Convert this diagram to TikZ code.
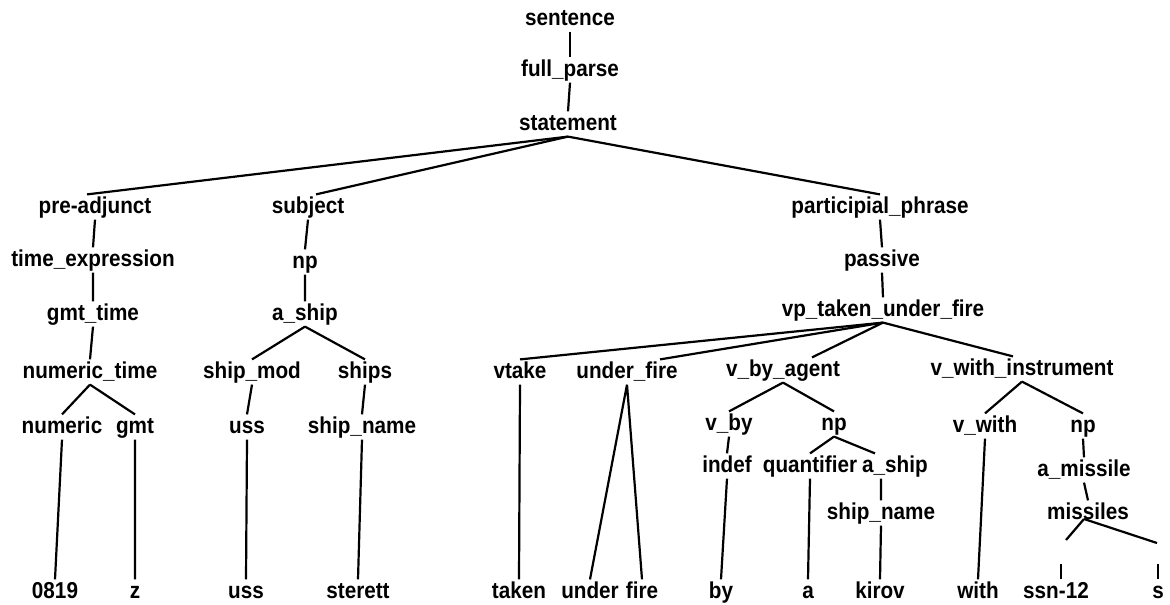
\documentclass[tikz,border=0pt]{standalone}
\usepackage{fontspec}
\newfontfamily\parsefont[FakeStretch=0.9]{Liberation Sans Bold}
\begin{document}
\begin{tikzpicture}[x=1pt,y=-1pt,line width=2.2pt,
    cat/.style={anchor=base, inner xsep=1pt, inner ysep=1.5pt,
      text height=16pt, text depth=4pt,
      font=\parsefont\fontsize{23}{26}\selectfont}]
    \useasboundingbox (0,0) rectangle (1170,605);
    % Top of the tree
    \node[cat] (sent) at (570,25) {sentence};
    \node[cat] (fullp) at (570,76) {full\_parse};
    \node[cat] (stmt) at (568,130) {statement};
    % Second level
    \node[cat] (preadj) at (95,213) {pre-adjunct};
    \node[cat] (subj) at (308,213) {subject};
    \node[cat] (partp) at (880,213) {participial\_phrase};
    \node[cat] (timex) at (93,266) {time\_expression};
    \node[cat] (np1) at (305,268) {np};
    \node[cat] (pass) at (882,266) {passive};
    \node[cat] (gmtt) at (93,320) {gmt\_time};
    \node[cat] (aship1) at (305,320) {a\_ship};
    \node[cat] (vptuf) at (883,316) {vp\_taken\_under\_fire};
    % Phrase level
    \node[cat] (numt) at (90,378) {numeric\_time};
    \node[cat] (shipmod) at (252,378) {ship\_mod};
    \node[cat] (ships) at (365,378) {ships};
    \node[cat] (vtake) at (520,378) {vtake};
    \node[cat] (undf) at (627,378) {under\_fire};
    \node[cat] (vbyag) at (783,376) {v\_by\_agent};
    \node[cat] (vwinst) at (1022,375) {v\_with\_instrument};
    % Lower categories
    \node[cat] (numr) at (62,433) {numeric};
    \node[cat] (gmt) at (135,433) {gmt};
    \node[cat] (uss1) at (247,433) {uss};
    \node[cat] (sname1) at (362,433) {ship\_name};
    \node[cat] (vby) at (729,430) {v\_by};
    \node[cat] (np2) at (834,430) {np};
    \node[cat] (vwith) at (985,432) {v\_with};
    \node[cat] (np3) at (1083,432) {np};
    \node[cat] (indef) at (727,472) {indef};
    \node[cat] (quant) at (810,472) {quantifier};
    \node[cat] (aship2) at (895,472) {a\_ship};
    \node[cat] (amiss) at (1084,476) {a\_missile};
    \node[cat] (sname2) at (881,519) {ship\_name};
    \node[cat] (miss) at (1088,519) {missiles};
    % Words
    \node[cat] (w0819) at (55,598) {0819};
    \node[cat] (wz) at (135,598) {z};
    \node[cat] (wuss) at (246,598) {uss};
    \node[cat] (wster) at (358,598) {sterett};
    \node[cat] (wtaken) at (519,598) {taken};
    \node[cat] (wunder) at (590,598) {under};
    \node[cat] (wfire) at (642,598) {fire};
    \node[cat] (wby) at (721,598) {by};
    \node[cat] (wa) at (808,598) {a};
    \node[cat] (wkirov) at (880,598) {kirov};
    \node[cat] (wwith) at (978,598) {with};
    \node[cat] (wssn) at (1056,598) {ssn-12};
    \node[cat] (ws) at (1158,598) {s};
    % Branches
    \draw (sent.south) -- (fullp.north);
    \draw (fullp.south) -- (stmt.north);
    \draw (stmt.south) -- ([xshift=-8pt]preadj.north);
    \draw (stmt.south) -- ([xshift=8pt]subj.north);
    \draw (stmt.south) -- (partp.north);
    \draw (preadj.south) -- (timex.north) (timex.south) -- (gmtt.north) (gmtt.south) -- (numt.north);
    \draw (subj.south) -- (np1.north) (np1.south) -- (aship1.north);
    \draw (partp.south) -- (pass.north) (pass.south) -- (vptuf.north);
    \draw (numt.south) -- (numr.north) (numt.south) -- (gmt.north);
    \draw (numr.south) -- (w0819.north) (gmt.south) -- (wz.north);
    \draw (aship1.south) -- (shipmod.north) (aship1.south) -- (ships.north);
    \draw (shipmod.south) -- (uss1.north) (uss1.south) -- (wuss.north);
    \draw (ships.south) -- (sname1.north) (sname1.south) -- (wster.north);
    \draw (vptuf.south) -- (vtake.north);
    \draw (vptuf.south) -- ([xshift=33pt]undf.north);
    \draw (vptuf.south) -- ([xshift=29pt]vbyag.north);
    \draw (vptuf.south) -- ([xshift=-9pt]vwinst.north);
    \draw (vtake.south) -- (wtaken.north);
    \draw (undf.south) -- (wunder.north) (undf.south) -- (wfire.north);
    \draw (vbyag.south) -- (vby.north) (vbyag.south) -- (np2.north);
    \draw (vby.south) -- (indef.north) (indef.south) -- (wby.north);
    \draw (np2.south) -- (quant.north) (np2.south) -- ([xshift=-20pt]aship2.north);
    \draw (quant.south) -- (wa.north);
    \draw ([xshift=-14pt]aship2.south) -- (sname2.north) (sname2.south) -- (wkirov.north);
    \draw (vwinst.south) -- (vwith.north) (vwinst.south) -- (np3.north);
    \draw (vwith.south) -- (wwith.north);
    \draw (np3.south) -- (amiss.north) (amiss.south) -- (miss.north);
    % Broken branches under missiles
    \coordinate (mleft) at (1066,540);
    \coordinate (mright) at (1157,543);
    \draw ([xshift=-4pt]miss.base) -- (mleft);
    \draw ([xshift=-4pt]miss.base) -- (mright);
    \draw ([xshift=5pt]wssn.north) -- ++(0,-15);
    \draw (ws.north) -- ++(0,-15);
\end{tikzpicture}
\end{document}
